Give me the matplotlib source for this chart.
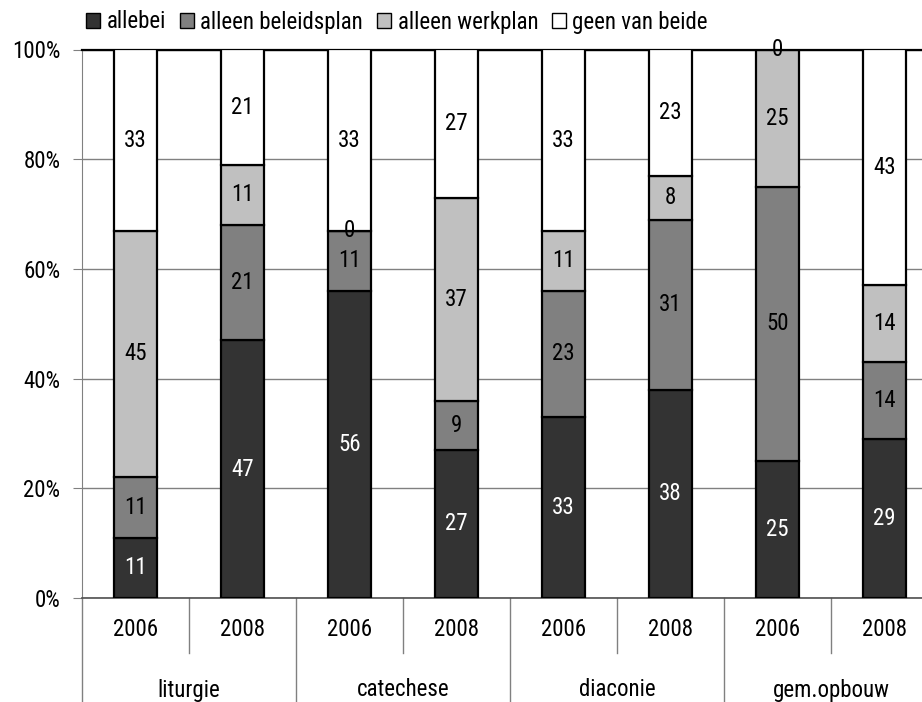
import matplotlib.pyplot as plt
from matplotlib.patches import Patch
import numpy as np

# data
years = ['2006', '2008', '2006', '2008', '2006', '2008', '2006', '2008']
groups = ['liturgie', 'catechese', 'diaconie', 'gem.opbouw']
series = ['allebei', 'alleen beleidsplan', 'alleen werkplan', 'geen van beide']
allebei = [11, 47, 56, 27, 33, 38, 25, 29]
beleidsplan = [11, 21, 11, 9, 23, 31, 50, 14]
werkplan = [45, 11, 0, 37, 11, 8, 25, 14]
geen = [33, 21, 33, 27, 33, 23, 0, 43]

colors = ['#333333', '#808080', '#c0c0c0', '#ffffff']
txtcolors = ['white', 'black', 'black', 'black']

plt.rcParams['font.family'] = ['Roboto Condensed', 'Liberation Sans Narrow', 'Liberation Sans', 'DejaVu Sans']
FS = 16.5
plt.rcParams['font.size'] = FS

W, H = 922, 702
fig = plt.figure(figsize=(W / 100, H / 100), dpi=100)
y0, y1 = 598, 49.5
ax = fig.add_axes([82 / W, (H - y0) / H, (938 - 82) / W, (y0 - y1) / H])

x = np.arange(len(years))
bottom = np.zeros(len(years))
for vals, col, tc in zip([allebei, beleidsplan, werkplan, geen], colors, txtcolors):
    vals = np.array(vals)
    ax.bar(x, vals, 0.41, bottom=bottom, color=col, edgecolor='black', linewidth=1.6, zorder=3)
    for xi, b, v in zip(x, bottom, vals):
        ax.text(xi, b + v / 2, str(v), ha='center', va='center', color=tc, fontsize=FS, zorder=4)
    bottom = bottom + vals

ax.set_xlim(-0.5, 7.5)
ax.set_ylim(0, 100)
ax.set_yticks([0, 20, 40, 60, 80, 100])
ax.set_yticklabels(['0%', '20%', '40%', '60%', '80%', '100%'])
ax.tick_params(axis='y', direction='out', length=6.5, color='#808080', pad=9, labelsize=FS)
ax.set_xticks([])
ax.yaxis.grid(True, color='#808080', linewidth=1, zorder=0)
ax.set_axisbelow(True)
ax.spines['right'].set_visible(False)
ax.spines['top'].set_color('black')
ax.spines['top'].set_linewidth(1.6)
ax.spines['left'].set_color('#808080')
ax.spines['bottom'].set_color('#505050')
ax.spines['bottom'].set_linewidth(1.2)

# two-level category axis
tr = ax.get_xaxis_transform()
ph = y0 - y1
for i, yr in enumerate(years):
    ax.text(i, -(630 - y0) / ph, yr, transform=tr, ha='center', va='center', fontsize=FS)
for j, g in enumerate(groups):
    ax.text(2 * j + 0.5, -(690 - y0) / ph, g, transform=tr, ha='center', va='center', fontsize=FS)
for k in range(9):
    xs = k - 0.5
    ylow = -(702 - y0) / ph if k % 2 == 0 else -(653 - y0) / ph
    ax.plot([xs, xs], [0, ylow], transform=tr, color='#808080', linewidth=1, clip_on=False)

handles = [Patch(facecolor=c, edgecolor='black', linewidth=1) for c in colors]
fig.legend(handles, series, ncol=4, loc='center left', bbox_to_anchor=(86 / W, 1 - 22 / H),
           frameon=False, handlelength=0.6, handleheight=0.6, handletextpad=0.3,
           columnspacing=0.6, borderaxespad=0, borderpad=0, fontsize=FS)

fig.savefig('out.png', dpi=100)
